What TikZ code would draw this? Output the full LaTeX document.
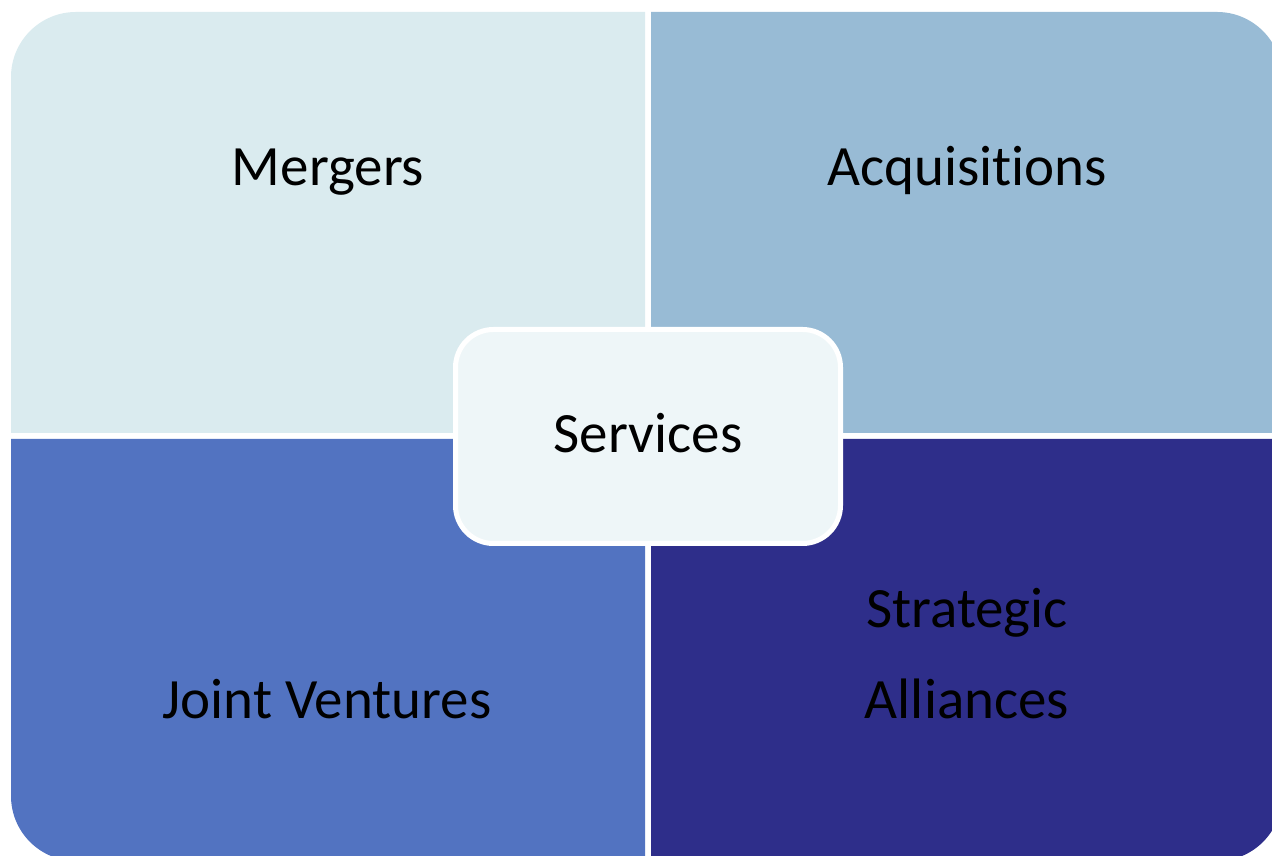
\documentclass[tikz,border=0pt]{standalone}
\usepackage{fontspec}
\setmainfont[Ligatures={NoCommon,NoContextual},Contextuals=NoAlternate]{Carlito}
\definecolor{cTL}{RGB}{218,235,239}
\definecolor{cTR}{RGB}{152,187,213}
\definecolor{cBL}{RGB}{82,115,193}
\definecolor{cBR}{RGB}{46,46,138}
\definecolor{cCenter}{RGB}{238,246,248}
\tikzset{
  lbl/.style={font=\fontsize{57}{91}\selectfont, text=black, inner sep=0pt, align=center},
  centerbox/.style={draw=white, line width=5pt, fill=cCenter, rounded corners=38pt,
    minimum width=385pt, minimum height=214pt, inner sep=0pt}
}
\begin{document}
\begin{tikzpicture}[x=1pt,y=1pt]
\useasboundingbox (0,0) rectangle (1272,856);
\clip (0,0) rectangle (1272,856);
% quadrants
\fill[cTL] (645,423) -- (11,423) -- (11,779) arc[start angle=180,end angle=90,radius=65] -- (645,844) -- cycle;
\fill[cTR] (651,423) -- (651,844) -- (1217,844) arc[start angle=90,end angle=0,radius=65] -- (1282,423) -- cycle;
\fill[cBL] (11,417) -- (11,60) arc[start angle=180,end angle=270,radius=65] -- (645,-5) -- (645,417) -- cycle;
\fill[cBR] (651,417) -- (651,-5) -- (1217,-5) arc[start angle=270,end angle=360,radius=65] -- (1282,417) -- cycle;
% labels
\node[lbl, anchor=base] (mergers) at (328,670) {Mergers};
\node[lbl, anchor=base] (acq) at (967,670) {Acquisitions};
\node[lbl, anchor=base] (jv) at (327,137) {Joint Ventures};
\node[lbl, anchor=base] (sa) at (967,137) {Strategic\\Alliances};
% center
\node[centerbox] (center) at (648,419.5) {};
\node[lbl, anchor=base] (svc) at (648,403) {Services};
\end{tikzpicture}
\end{document}
